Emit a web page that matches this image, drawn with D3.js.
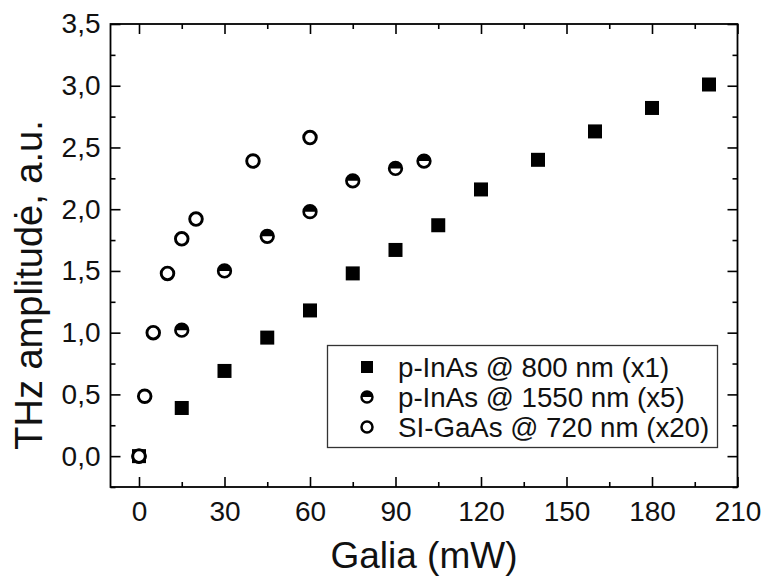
<!DOCTYPE html>
<html><head><meta charset="utf-8">
<script src="https://cdn.jsdelivr.net/npm/d3@7"></script>
<style>
body{margin:0;background:#fff;}
svg{display:block;font-family:"Liberation Sans",Arial,sans-serif;}
</style></head>
<body>
<svg id="chart" width="761" height="580"></svg>
<script>
// ---- data ----
const seriesNames = ["p-InAs @ 800 nm (x1)", "p-InAs @ 1550 nm (x5)", "SI-GaAs @ 720 nm (x20)"];
const sq800X = [0, 15, 30, 45, 60, 75, 90, 105, 120, 140, 160, 180, 200];
const sq800Y = [0, 0.39, 0.69, 0.96, 1.18, 1.48, 1.67, 1.87, 2.16, 2.40, 2.63, 2.82, 3.01];
const half1550X = [0, 15, 30, 45, 60, 75, 90, 100];
const half1550Y = [0, 1.02, 1.50, 1.78, 1.98, 2.23, 2.33, 2.39];
const open720X = [0, 2, 5, 10, 15, 20, 40, 60];
const open720Y = [0, 0.485, 1.00, 1.48, 1.76, 1.92, 2.39, 2.58];
const xTicks = [0, 30, 60, 90, 120, 150, 180, 210];
const xMinorTicks = [15, 45, 75, 105, 135, 165, 195];
const yTicks = [0, 0.5, 1.0, 1.5, 2.0, 2.5, 3.0, 3.5];
const yTickLabels = ["0,0", "0,5", "1,0", "1,5", "2,0", "2,5", "3,0", "3,5"];
const yMinorTicks = [-0.25, 0.25, 0.75, 1.25, 1.75, 2.25, 2.75, 3.25];
const xTitle = "Galia (mW)";
const yTitle = "THz amplitudė, a.u.";

// ---- layout ----
const L = 110.5, R = 737.5, T = 24, B = 487;
const svg = d3.select("#chart");
const x = d3.scaleLinear().domain([-10, 210]).range([L, R]);
const y = d3.scaleLinear().domain([-0.25, 3.5]).range([B, T]);

function styleAxis(g){
  g.select(".domain").remove();
  g.selectAll(".tick line").attr("stroke","#000").attr("stroke-width",1.6);
  g.selectAll(".tick text").attr("fill","#111").style("font-size","28px").style("font-family","'Liberation Sans',Arial,sans-serif");
}
// major axes
svg.append("g").attr("transform",`translate(0,${B})`)
  .call(d3.axisBottom(x).tickValues(xTicks).tickSize(-10).tickPadding(14).tickFormat(d=>String(d)))
  .call(styleAxis);
svg.append("g").attr("transform",`translate(${L},0)`)
  .call(d3.axisLeft(y).tickValues(yTicks).tickSize(-10).tickPadding(10).tickFormat((d,i)=>yTickLabels[i]))
  .call(styleAxis);
svg.append("g").attr("transform",`translate(0,${T})`)
  .call(d3.axisTop(x).tickValues(xTicks).tickSize(-10).tickFormat(""))
  .call(styleAxis);
svg.append("g").attr("transform",`translate(${R},0)`)
  .call(d3.axisRight(y).tickValues(yTicks).tickSize(-10).tickFormat(""))
  .call(styleAxis);
// minor
svg.append("g").attr("transform",`translate(0,${B})`)
  .call(d3.axisBottom(x).tickValues(xMinorTicks).tickSize(-5).tickFormat("")).call(styleAxis);
svg.append("g").attr("transform",`translate(0,${T})`)
  .call(d3.axisTop(x).tickValues(xMinorTicks).tickSize(-5).tickFormat("")).call(styleAxis);
svg.append("g").attr("transform",`translate(${L},0)`)
  .call(d3.axisLeft(y).tickValues(yMinorTicks).tickSize(-5).tickFormat("")).call(styleAxis);
svg.append("g").attr("transform",`translate(${R},0)`)
  .call(d3.axisRight(y).tickValues(yMinorTicks).tickSize(-5).tickFormat("")).call(styleAxis);

// frame
svg.append("rect").attr("x",L).attr("y",T).attr("width",R-L).attr("height",B-T)
  .attr("fill","none").attr("stroke","#000").attr("stroke-width",1.8);

// titles
svg.append("text").attr("x",(L+R)/2).attr("y",568).attr("text-anchor","middle")
  .style("font-size","37px").attr("fill","#111").text(xTitle);
svg.append("text").attr("transform","translate(42,285) rotate(-90)").attr("text-anchor","middle")
  .style("font-size","38px").attr("fill","#111").text(yTitle);

// markers
const halfPath = r => `M${-r},0 A${r},${r} 0 0 1 ${r},0 Z`;
function drawSquare(g, cx, cy, s){
  g.append("rect").attr("x",cx-s/2).attr("y",cy-s/2).attr("width",s).attr("height",s).attr("fill","#000");
}
function drawHalf(g, cx, cy, r, sw){
  const gg = g.append("g").attr("transform",`translate(${cx},${cy})`);
  gg.append("circle").attr("r",r).attr("fill","#fff");
  gg.append("path").attr("d",halfPath(r)).attr("fill","#000");
  gg.append("circle").attr("r",r).attr("fill","none").attr("stroke","#000").attr("stroke-width",sw);
}
function drawOpen(g, cx, cy, r, sw){
  g.append("circle").attr("cx",cx).attr("cy",cy).attr("r",r).attr("fill","#fff").attr("stroke","#000").attr("stroke-width",sw);
}
const pts = svg.append("g");
sq800X.forEach((v,i)=>drawSquare(pts, x(v), y(sq800Y[i]), 14));
half1550X.forEach((v,i)=>drawHalf(pts, x(v), y(half1550Y[i]), 6.3, 2.7));
open720X.forEach((v,i)=>drawOpen(pts, x(v), y(open720Y[i]), 6.3, 2.9));

// legend
const lg = svg.append("g");
lg.append("rect").attr("x",327.5).attr("y",345.5).attr("width",390).attr("height",102)
  .attr("fill","#fff").attr("stroke","#333").attr("stroke-width",1.3);
const rowsY = [367, 397, 427];
drawSquare(lg, 367, rowsY[0], 12);
drawHalf(lg, 367, rowsY[1], 5.5, 2.4);
drawOpen(lg, 367, rowsY[2], 5.5, 2.5);
seriesNames.forEach((n,i)=>{
  lg.append("text").attr("x",398).attr("y",rowsY[i]).attr("dy","0.36em")
    .style("font-size","27.7px").attr("fill","#111").text(n);
});
</script>
</body></html>
